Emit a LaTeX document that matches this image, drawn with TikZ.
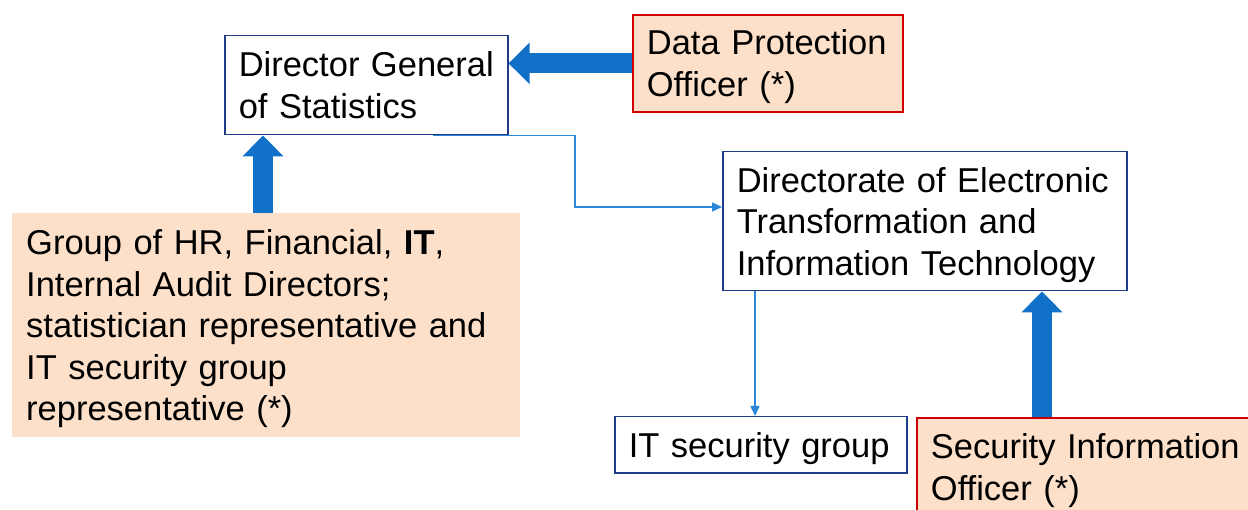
\documentclass[tikz,border=0pt]{standalone}
\usepackage{fontspec}
\setmainfont{Liberation Sans}
\usetikzlibrary{arrows.meta,calc}
\definecolor{peach}{HTML}{FCE0C9}
\definecolor{redb}{HTML}{D00000}
\definecolor{navy}{HTML}{1F3C88}
\definecolor{arrowblue}{HTML}{1170C8}
\definecolor{lineblue}{HTML}{2B88D8}
\begin{document}
\begin{tikzpicture}[x=1pt,y=-1pt,
 box/.style={anchor=north west, rectangle, inner xsep=14pt, inner ysep=0pt, align=left,
   font=\fontsize{34.5}{41.5}\selectfont,
   execute at begin node={\hyphenpenalty=10000\rule{0pt}{32pt}},
   execute at end node={\rule[-7.3pt]{0pt}{7.3pt}}},
 navybox/.style={box, draw=navy, line width=1.5pt, fill=white},
 redbox/.style={box, draw=redb, line width=1.8pt, fill=peach},
 peachbox/.style={box, fill=peach},
 bigarrow/.style={draw=arrowblue, line width=20pt, -{Triangle[length=21pt,width=40pt]}},
 thinarrow/.style={draw=lineblue, line width=1.5pt, -{Triangle[length=10pt,width=9pt]}},
]
\useasboundingbox (0,0) rectangle (1248,510);

\node[navybox, minimum width=283pt, text width=255pt, minimum height=99pt] (dg) at (224,35)
  {\mbox{Director General}\\of Statistics};
\node[redbox, minimum width=270pt, text width=242pt, minimum height=97pt] (dpo) at (632,14)
  {Data Protection\\Officer (*)};
\node[peachbox, minimum width=508pt, text width=480pt, minimum height=224pt] (grp) at (12,213)
  {Group of HR, Financial, \textbf{IT},\\Internal Audit Directors;\\statistician representative and\\IT security group\\representative (*)};
\node[navybox, minimum width=404pt, text width=376pt, minimum height=139pt] (det) at (722,151)
  {\mbox{Directorate of Electronic}\\Transformation and\\\mbox{Information Technology}};
\node[navybox, minimum width=292pt, text width=264pt, minimum height=56pt] (its) at (614,416)
  {IT security group};
\node[redbox, minimum width=340pt, text width=312pt, minimum height=99pt] (sio) at (916,417)
  {Security Information\\Officer (*)};

% thick arrows
\draw[bigarrow] (dpo.west) -- (dg.east |- dpo.west);
\coordinate (u1) at ($(grp.north west)+(251,0)$);
\draw[bigarrow] (u1) -- (u1 |- dg.south);
\coordinate (u2) at ($(sio.north west)+(126,0)$);
\draw[bigarrow] (u2) -- (u2 |- det.south);

% thin connectors
\coordinate (s1) at ($(dg.south west)!0.735!(dg.south east)$);
\coordinate (c1) at (575,207);
\draw[thinarrow] (s1) -| (c1) -- (det.west |- c1);
\coordinate (d2) at ($(det.south west)+(33,0)$);
\draw[thinarrow] (d2) -- (d2 |- its.north);
\end{tikzpicture}
\end{document}
